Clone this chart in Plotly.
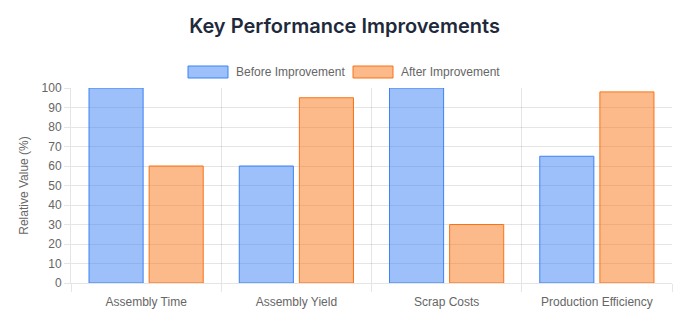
import plotly.graph_objects as go

categories = ["Assembly Time", "Assembly Yield", "Scrap Costs", "Production Efficiency"]
series_names = ["Before Improvement", "After Improvement"]
before_values = [100, 60, 100, 65]
after_values = [60, 95, 30, 98]
y_ticks = list(range(0, 101, 10))

fills = ["rgba(59,130,246,0.5)", "rgba(249,115,22,0.5)"]
borders = ["rgb(59,130,246)", "rgb(249,115,22)"]

fig = go.Figure()
for name, vals, fc, bc in zip(series_names, [before_values, after_values], fills, borders):
    fig.add_trace(go.Bar(x=categories, y=vals, name=name,
                         marker=dict(color=fc, line=dict(color=bc, width=1))))

grid = "rgba(0,0,0,0.1)"
fig.update_layout(
    width=689, height=331,
    margin=dict(l=71, r=17, t=88, b=48),
    paper_bgcolor="white", plot_bgcolor="white",
    barmode="group", bargap=0.2, bargroupgap=0.1,
    showlegend=False,
    font=dict(family="Liberation Sans, Arial, sans-serif", size=12, color="#666666"),
    title=dict(text="Key Performance Improvements", x=0.5, xanchor="center",
               y=1 - 26 / 331, yanchor="middle",
               font=dict(family="Inter, Roboto, sans-serif", size=20, weight=600, color="#1e293b")),
    xaxis=dict(type="category", range=[-0.5, 3.5], showgrid=False,
               ticks="outside", ticklen=8, tickcolor="rgba(0,0,0,0)",
               showline=True, linecolor=grid, linewidth=1,
               minor=dict(tickmode="array", tickvals=[-0.5, 0.5, 1.5, 2.5, 3.5],
                          showgrid=True, gridcolor=grid, gridwidth=1,
                          ticks="outside", ticklen=8, tickcolor=grid)),
    yaxis=dict(range=[0, 100], tickvals=y_ticks, showgrid=True, gridcolor=grid,
               ticks="outside", ticklen=6, tickcolor=grid,
               showline=True, linecolor=grid, zeroline=False,
               title=dict(text="Relative Value (%)", standoff=10,
                          font=dict(size=12, color="#666666"))),
)

# legend drawn as boxes + labels in pixel-like paper coordinates
W, H = 689, 331
pl, pr, pt, pb = 71, 17, 88, 48
pw, ph = W - pl - pr, H - pt - pb
def px(x):
    return (x - pl) / pw
def py(y):
    return (H - pb - y) / ph

legend_x = [188, 353]
for i, name in enumerate(series_names):
    x0 = legend_x[i]
    fig.add_shape(type="rect", xref="paper", yref="paper",
                  x0=px(x0), x1=px(x0 + 40), y0=py(78), y1=py(66),
                  fillcolor=fills[i], line=dict(color=borders[i], width=1))
    fig.add_annotation(xref="paper", yref="paper", x=px(x0 + 46), y=py(72),
                       text=name, showarrow=False, xanchor="left", yanchor="middle",
                       font=dict(size=12, color="#666666"))

fig.write_html("out.html")
